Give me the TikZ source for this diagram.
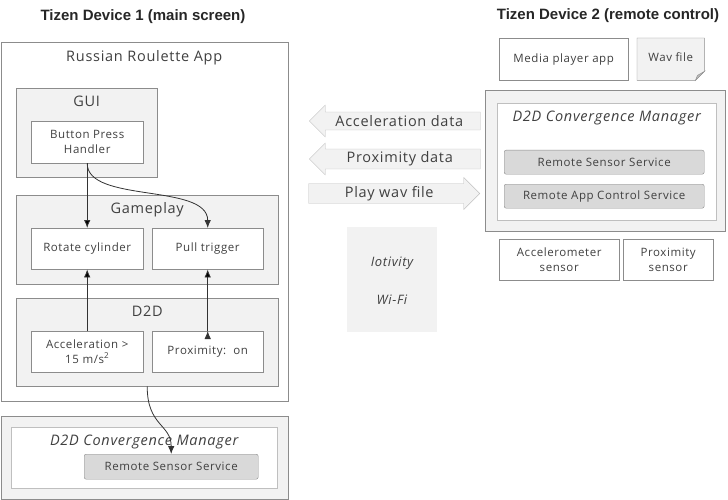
\documentclass[tikz,border=0pt]{standalone}
\usepackage{fontspec}
\setmainfont{Open Sans}[LetterSpace=5]
\newfontfamily\titlefont{Liberation Sans}
\usetikzlibrary{shapes.arrows,arrows.meta}
\definecolor{panel}{HTML}{F2F2F2}
\definecolor{frame}{HTML}{8C8C8C}
\definecolor{lightframe}{HTML}{BFBFBF}
\definecolor{service}{HTML}{D9D9D9}
\definecolor{ink}{HTML}{404040}
\newcommand{\boxfont}{\fontsize{11.5}{14.5}\selectfont}
\newcommand{\headfont}{\fontsize{14.5}{17}\selectfont}

\begin{document}
\begin{tikzpicture}[x=1pt,y=-1pt,
    every node/.style={text=ink,inner sep=0pt},
    panelbox/.style={draw=frame,fill=panel,anchor=north west},
    whitebox/.style={draw=frame,fill=white,anchor=north west,align=center,font=\boxfont},
    servicebox/.style={draw=frame,fill=service,rounded corners=2pt,anchor=north west,font=\boxfont},
    heading/.style={font=\headfont,text height=11pt,text depth=3.5pt},
    devtitle/.style={font=\titlefont\bfseries\fontsize{15}{18}\selectfont,text=black!85},
    bigarrow/.style={single arrow,draw=lightframe,fill=panel,minimum height=171pt,minimum width=32pt,
      single arrow head extend=4.5pt,single arrow head indent=0pt,font=\headfont},
    link/.style={-{Latex[length=8pt,width=6.5pt]},draw=black!80,line width=0.8pt}]
  \useasboundingbox (0,0) rectangle (728,500);

  % Tizen device 1
  \node[devtitle] (devone) at (143,17) {Tizen Device 1 (main screen)};
  \node[panelbox,fill=white,minimum width=287pt,minimum height=359pt] (app) at (0.5,42) {};
  \node[heading] (apptitle) at ([yshift=-16pt]app.north) {Russian Roulette App};

  \node[panelbox,minimum width=141pt,minimum height=89pt] (gui) at (16,88) {};
  \node[heading] (guititle) at ([yshift=-15pt]gui.north) {GUI};
  \node[whitebox,minimum width=112pt,minimum height=42pt] (bph) at (31,121) {Button Press\\Handler};

  \node[panelbox,minimum width=262pt,minimum height=89pt] (game) at (16,195) {};
  \node[heading] (gametitle) at ([yshift=-15pt]game.north) {Gameplay};
  \node[whitebox,minimum width=112pt,minimum height=41pt] (rot) at (31,228) {Rotate cylinder};
  \node[whitebox,minimum width=111pt,minimum height=41pt] (pull) at (152,228) {Pull trigger};

  \node[panelbox,minimum width=262pt,minimum height=88pt] (d2d) at (16,298) {};
  \node[heading] (d2dtitle) at ([yshift=-15pt]d2d.north) {D2D};
  \node[whitebox,minimum width=112pt,minimum height=41pt] (acc) at (31,331) {Acceleration \textgreater\\15 m/s\textsuperscript{2}};
  \node[whitebox,minimum width=111pt,minimum height=41pt] (prox) at (152,331) {Proximity:\ \ on};

  \node[panelbox,minimum width=287pt,minimum height=83pt] (dcmone) at (0.5,416) {};
  \node[panelbox,draw=lightframe,fill=white,minimum width=266pt,minimum height=61pt] (dcmonein) at (11,427) {};
  \node[heading,font=\headfont\itshape] (dcmonetitle) at ([yshift=-15pt]dcmonein.north) {D2D Convergence Manager};
  \node[servicebox,minimum width=174pt,minimum height=25pt] (rssone) at (84,454) {Remote Sensor Service};

  \path[link]
    (bph.south) edge (rot.north)
    (acc.north) edge (rot.south)
    (prox.north) edge (pull.south);
  \draw[link] (bph.south) .. controls +(0,40) and +(0,-45) .. (pull.north);
  \draw[link] (d2d.south) .. controls +(0,40) and +(0,-30) .. (rssone.north);

  % messages between the devices
  \node[bigarrow,shape border rotate=180,anchor=tip] (accdata) at (309,121) {Acceleration data};
  \node[bigarrow,shape border rotate=180,anchor=tip] (proxdata) at (309,159) {Proximity data};
  \node[bigarrow,anchor=tip] (playwav) at (480,193.5) {Play wav file};

  \node[panelbox,draw=none,minimum width=90pt,minimum height=105pt] (iot) at (347,227) {};
  \node[font=\fontsize{13}{15}\selectfont\itshape] (iotivity) at (392,263) {Iotivity};
  \node[font=\fontsize{13}{15}\selectfont\itshape] (wifi) at (392,300) {Wi-Fi};

  % Tizen device 2
  \node[devtitle] (devtwo) at (608,16) {Tizen Device 2 (remote control)};
  \node[whitebox,minimum width=129pt,minimum height=42pt] (media) at (499,38) {Media player app};
  \node[anchor=north west,minimum width=67pt,minimum height=42pt] (wav) at (637,38) {};
  \draw[draw=frame,fill=panel] (wav.north west) -- (wav.north east) -- ([yshift=9pt]wav.south east)
    -- ([xshift=-9pt]wav.south east) -- (wav.south west) -- cycle;
  \draw[draw=frame,fill=frame!60] ([yshift=9pt]wav.south east) -- ([xshift=-9pt]wav.south east)
    -- ([xshift=-7pt,yshift=5pt]wav.south east) -- cycle;
  \node[font=\boxfont] (wavtext) at ([yshift=-19pt]wav.north) {Wav file};

  \node[panelbox,minimum width=240pt,minimum height=141pt] (dcmtwo) at (485,90) {};
  \node[panelbox,draw=lightframe,fill=white,minimum width=219pt,minimum height=117pt] (dcmtwoin) at (497,103) {};
  \node[heading,font=\headfont\itshape] (dcmtwotitle) at ([yshift=-15pt]dcmtwoin.north) {D2D Convergence Manager};
  \node[servicebox,minimum width=200pt,minimum height=24pt] (rsstwo) at (504,150) {Remote Sensor Service};
  \node[servicebox,minimum width=200pt,minimum height=24pt] (racs) at (504,184) {Remote App Control Service};

  \node[whitebox,minimum width=120pt,minimum height=41pt] (accsens) at (499,239) {Accelerometer\\sensor};
  \node[whitebox,minimum width=90pt,minimum height=41pt] (proxsens) at (623,239) {Proximity\\sensor};
\end{tikzpicture}
\end{document}
